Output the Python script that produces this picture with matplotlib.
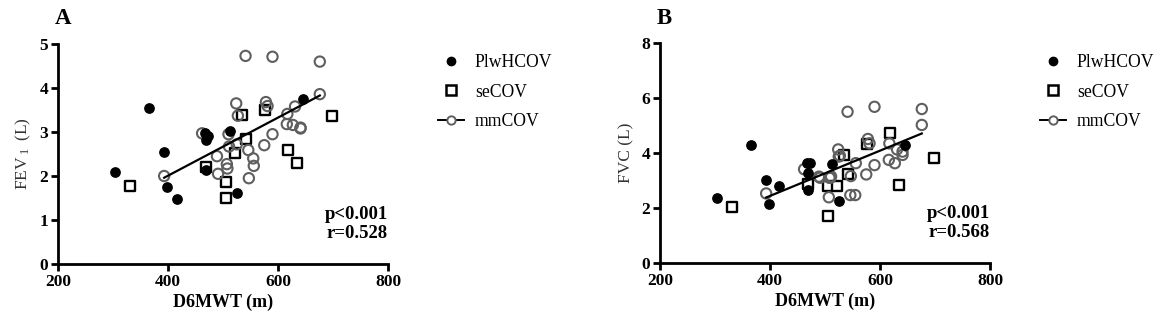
import numpy as np
import matplotlib
matplotlib.use("Agg")
import matplotlib.pyplot as plt
from matplotlib.lines import Line2D

plt.rcParams['font.family'] = ['Liberation Serif', 'DejaVu Serif']
plt.rcParams['mathtext.fontset'] = 'custom'
plt.rcParams['mathtext.rm'] = 'Liberation Serif'
plt.rcParams['mathtext.it'] = 'Liberation Serif:italic'
plt.rcParams['mathtext.bf'] = 'Liberation Serif:bold'

# PlwHCOV (filled circles)
plw_x = [303, 365, 392, 399, 416, 468, 473, 470, 470, 512, 525, 645]
plw_fev1 = [2.08, 3.55, 2.55, 1.75, 1.47, 2.97, 2.92, 2.82, 2.14, 3.02, 1.61, 3.74]
plw_fvc = [2.35, 4.28, 3.03, 2.16, 2.81, 3.64, 3.64, 3.27, 2.64, 3.61, 2.25, 4.30]

# seCOV (open squares)
se_x = [331, 469, 505, 506, 522, 535, 542, 576, 619, 635, 698]
se_fev1 = [1.78, 2.21, 1.86, 1.50, 2.53, 3.39, 2.85, 3.50, 2.59, 2.30, 3.37]
se_fvc = [2.05, 2.87, 2.81, 1.72, 2.81, 3.92, 3.25, 4.33, 4.73, 2.82, 3.83]

# mmCOV (grey open circles)
mm_x = [393, 462, 489, 491, 507, 508, 510, 511, 524, 525, 527, 541, 546, 547,
        555, 556, 575, 578, 581, 590, 590, 616, 617, 627, 631, 641, 641, 676, 676]
mm_fev1 = [2.00, 2.97, 2.45, 2.05, 2.27, 2.17, 2.95, 2.67, 3.65, 2.72, 3.37, 4.73, 2.59, 1.95,
           2.40, 2.23, 2.70, 3.68, 3.59, 4.71, 2.95, 3.18, 3.41, 3.16, 3.58, 3.10, 3.08, 4.60, 3.86]
mm_fvc = [2.53, 3.41, 3.14, 3.10, 2.39, 3.10, 3.10, 3.15, 4.13, 3.87, 3.90, 5.50, 2.47, 3.16,
          2.47, 3.63, 3.22, 4.51, 4.35, 5.68, 3.56, 3.75, 4.35, 3.63, 4.13, 3.93, 4.05, 5.60, 5.02]

panels = [
    ("A", plw_fev1, se_fev1, mm_fev1, r"FEV$\,_{1}\;$ (L)", [0, 1, 2, 3, 4, 5], "p<0.001\nr=0.528"),
    ("B", plw_fvc, se_fvc, mm_fvc, "FVC (L)", [0, 2, 4, 6, 8], "p<0.001\nr=0.568"),
]
x_ticks = [200, 400, 600, 800]
grey = '#5f5f5f'

fig = plt.figure(figsize=(11.69, 3.33), dpi=100)
W, H = 1169, 333
boxes = [(58, 44, 388, 264), (660, 43, 990, 263)]
legend_x = [422, 1024]

for (letter, plw_y, se_y, mm_y, ylab, yt, stat), (l, t, r, b), lx in zip(panels, boxes, legend_x):
    ax = fig.add_axes([l / W, 1 - b / H, (r - l) / W, (b - t) / H])
    ax.scatter(se_x, se_y, marker='s', s=55, facecolors='white', edgecolors='black', linewidths=1.7, zorder=3)
    ax.scatter(plw_x, plw_y, marker='o', s=45, color='black', zorder=4)
    ax.scatter(mm_x, mm_y, marker='o', s=55, facecolors='none', edgecolors=grey, linewidths=1.5, zorder=3)
    k, c = np.polyfit(mm_x, mm_y, 1)
    xs = np.array([min(mm_x), max(mm_x)])
    ax.plot(xs, k * xs + c, color='black', lw=1.6, zorder=5)

    ax.set_xlim(200, 800)
    ax.set_ylim(yt[0], yt[-1])
    ax.set_xticks(x_ticks)
    ax.set_yticks(yt)
    for s in ['top', 'right']:
        ax.spines[s].set_visible(False)
    for s in ['left', 'bottom']:
        ax.spines[s].set_linewidth(2.0)
    ax.tick_params(width=2.0, length=5, labelsize=12.5, pad=2)
    for lab in ax.get_xticklabels() + ax.get_yticklabels():
        lab.set_fontweight('bold')
    ax.set_xlabel("D6MWT (m)", fontsize=13, fontweight='bold', labelpad=3)
    ax.set_ylabel(ylab, fontsize=12.5, color='#333333', labelpad=5)
    ax.text(1.0, 0.1, stat, transform=ax.transAxes, ha='right', va='bottom',
            fontsize=13.5, fontweight='bold', linespacing=1.15)
    fig.text((l - 3) / W, 1 - 18 / H, letter, fontsize=16.5, fontweight='bold', va='center')

    handles = [
        Line2D([], [], marker='o', ls='none', color='black', markersize=6),
        Line2D([], [], marker='s', ls='none', mfc='white', mec='black', mew=1.8, markersize=7),
        Line2D([], [], marker='o', color='black', lw=1.4, mfc='white', mec=grey, mew=1.4, markersize=6),
    ]
    fig.legend(handles, ["PlwHCOV", "seCOV", "mmCOV"], loc='upper left',
               bbox_to_anchor=(lx / W, 1 - 38 / H), frameon=False, fontsize=12.7,
               handlelength=1.5, handletextpad=0.6, labelspacing=0.72)

fig.savefig("out.png", dpi=100)
